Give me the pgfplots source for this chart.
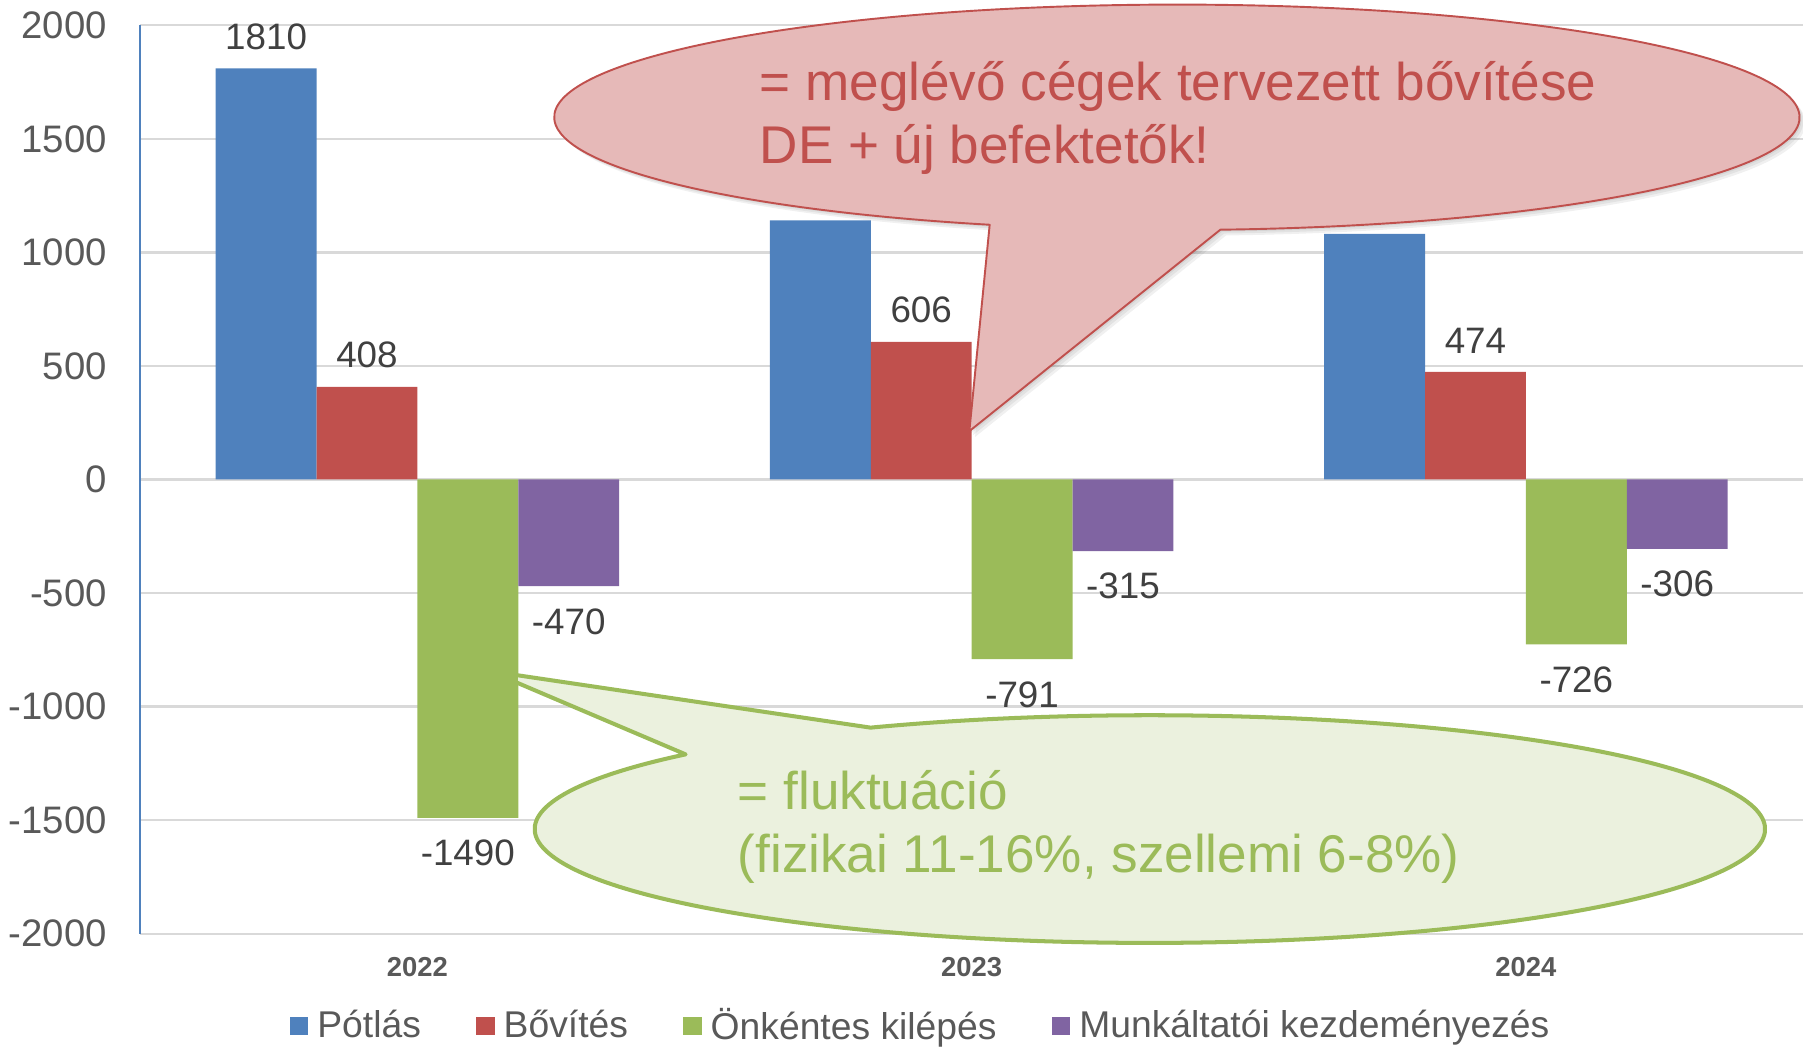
\documentclass[border=0pt]{standalone}
\usepackage{pgfplots}
\pgfplotsset{compat=1.18}
\usepackage{fontspec}
\setmainfont{Liberation Sans}
\definecolor{cBlue}{HTML}{4F81BD}
\definecolor{cRed}{HTML}{C0504D}
\definecolor{cGreen}{HTML}{9BBB59}
\definecolor{cPurple}{HTML}{8064A2}
\definecolor{cGrid}{HTML}{D9D9D9}
\definecolor{cTick}{HTML}{595959}
\definecolor{cLabel}{HTML}{404040}
\definecolor{cRedFill}{HTML}{E6B9B8}
\definecolor{cGreenFill}{HTML}{EBF1DE}
\begin{document}
\begin{tikzpicture}
\begin{axis}[
  at={(0pt,0pt)}, anchor=south west,
  scale only axis, width=433.8pt, height=237pt,
  xmin=-0.5, xmax=2.5, ymin=-2000, ymax=2000,
  ybar=0pt, bar width=0.182,
  axis y line*=left, axis x line*=bottom,
  x axis line style={draw=none,-},
  y axis line style={draw=cBlue, line width=0.5pt,-},
  ymajorgrids, grid style={cGrid, line width=0.6pt},
  major tick length=0pt,
  xtick={0,1,2}, xticklabels={2022,2023,2024},
  ytick={-2000,-1500,-1000,-500,0,500,1000,1500,2000},
  yticklabels={-2000,-1500,-1000,-500,0,500,1000,1500,2000},
  xticklabel style={font=\fontsize{7.15pt}{8pt}\selectfont\bfseries, text=cTick, inner sep=0pt, yshift=-6pt},
  yticklabel style={font=\fontsize{10pt}{12pt}\selectfont, text=cTick, inner sep=0pt, xshift=-8.5pt},
  point meta=explicit symbolic,
  nodes near coords,
  every node near coord/.append style={font=\fontsize{9.6pt}{11pt}\selectfont, text=cLabel, inner xsep=0pt, inner ysep=4.7pt, anchor=south},
  legend columns=4,
  legend cell align=left,
  legend style={
    at={(axis description cs:0.0899,-0.1025)}, anchor=west,
    draw=none, fill=none, inner sep=0pt, outer sep=0pt,
    font=\fontsize{9.72pt}{11pt}\selectfont, text=cTick,
    /tikz/every even column/.append style={column sep=14.4pt},
    /tikz/every odd column/.append style={column sep=2.4pt},
    nodes={inner sep=0pt},
  },
  legend image code/.code={\fill[#1,draw=none] (0pt,-2.2pt) rectangle (4.8pt,2.6pt);},
  clip=false,
]
\addplot[fill=cBlue, draw=none, bar shift=-0.273] coordinates {(0,1810) [1810] (1,1141) [{}] (2,1082) [{}]};
\addplot[fill=cRed, draw=none, bar shift=-0.091] coordinates {(0,408) [408] (1,606) [606] (2,474) [474]};
\addplot[fill=cGreen, draw=none, bar shift=0.091, every node near coord/.append style={anchor=north, yshift=-0.9pt}] coordinates {(0,-1490) [-1490] (1,-791) [-791] (2,-726) [-726]};
\addplot[fill=cPurple, draw=none, bar shift=0.273, every node near coord/.append style={anchor=north, yshift=-0.9pt}] coordinates {(0,-470) [-470] (1,-315) [-315] (2,-306) [-306]};
\legend{Pótlás, Bővítés, Önkéntes kilépés, Munkáltatói kezdeményezés}
\end{axis}
% red callout shadow
\foreach \s in {0.5,1.0,1.5}{
\path[fill=black, opacity=0.06] ([shift={(\s pt,-\s pt)}]270.45pt,213pt) ++(-86:162.45pt and 29.4pt) arc[start angle=-86, end angle=252.5, x radius=162.45pt, y radius=29.4pt] -- ([shift={(\s pt,-\s pt)}]216.3pt,131.1pt) -- cycle;
}
% red callout
\path[fill=cRedFill, draw=cRed, line width=0.5pt, line join=round] (270.45pt,213pt) ++(-86:162.45pt and 29.4pt) arc[start angle=-86, end angle=252.5, x radius=162.45pt, y radius=29.4pt] -- (216.3pt,131.1pt) -- cycle;
\node[anchor=base west, inner sep=0pt, text=cRed, font=\fontsize{13.85pt}{16pt}\selectfont] at (161.4pt,217.5pt) {= meglévő cégek tervezett bővítése};
\node[anchor=base west, inner sep=0pt, text=cRed, font=\fontsize{13.85pt}{16pt}\selectfont] at (161.4pt,201pt) {DE + új befektetők!};
% green callout (tip hidden behind the bar edge)
\begin{scope}
\clip (98.6pt,-40pt) rectangle (450pt,120pt);
\path[fill=cGreenFill, draw=cGreen, line width=1.05pt, line join=round] (263.4pt,27.3pt) ++(139:160.5pt and 29.7pt) arc[start angle=139, end angle=477, x radius=160.5pt, y radius=29.7pt] -- (91.2pt,68.5pt) -- cycle;
\end{scope}
\node[anchor=base west, inner sep=0pt, text=cGreen, font=\fontsize{13.85pt}{16pt}\selectfont] at (155.7pt,32.4pt) {= fluktuáció};
\node[anchor=base west, inner sep=0pt, text=cGreen, font=\fontsize{13.85pt}{16pt}\selectfont] at (155.7pt,15.9pt) {(fizikai 11-16\%, szellemi 6-8\%)};
\pgfresetboundingbox
\path[use as bounding box] (-36.6pt,-29.7pt) rectangle (433.8pt,243.6pt);
\end{tikzpicture}
\end{document}
